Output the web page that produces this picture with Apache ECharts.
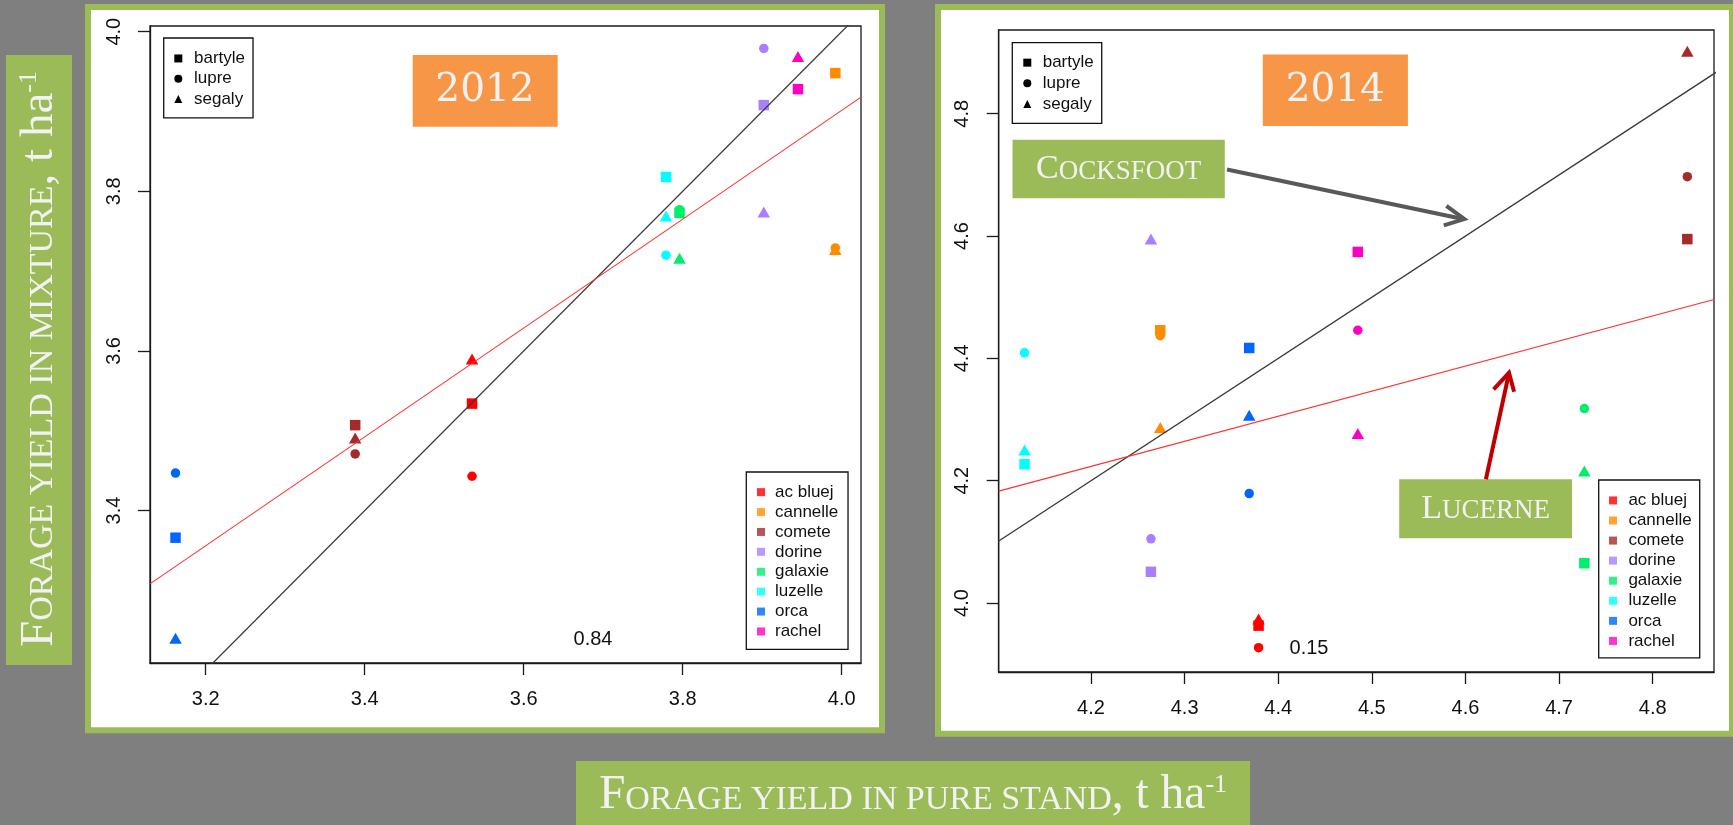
<!DOCTYPE html>
<html><head><meta charset="utf-8">
<script src="https://cdn.jsdelivr.net/npm/echarts@6/dist/echarts.min.js"></script>
<style>html,body{margin:0;padding:0;background:#7f7f7f;overflow:hidden}#c{width:1733px;height:825px}</style>
</head><body><div id="c"></div>
<script>
// ---------- data ----------
const varieties = ['ac bluej','cannelle','comete','dorine','galaxie','luzelle','orca','rachel'];
const species = ['bartyle','lupre','segaly'];

// 2012: yield in pure stand (x) and in mixture with each grass (y), per variety
const pure2012    = [3.535, 3.992, 3.388, 3.902, 3.796, 3.779, 3.162, 3.945];
const bartyle2012 = [3.534, 3.948, 3.507, 3.908, 3.773, 3.818, 3.366, 3.928];
const lupre2012   = [3.443, 3.729, 3.471, 3.979, 3.777, 3.720, 3.447, null];
const segaly2012  = [3.590, 3.727, 3.491, 3.774, 3.716, 3.769, 3.240, 3.969];

// 2014
const pure2014    = [4.379, 4.274, 4.837, 4.264, 4.727, 4.129, 4.369, 4.485];
const bartyle2014 = [3.963, 4.446, 4.595, 4.051, 4.065, 4.227, 4.417, 4.574];
const lupre2014   = [3.927, 4.437, 4.697, 4.105, 4.318, 4.409, 4.179, 4.446];
const segaly2014  = [3.974, 4.287, 4.902, 4.595, 4.216, 4.250, 4.307, 4.277];

// regression lines (red)
const fit2012 = {intercept: 1.1742, slope: 0.6818};
const fit2014 = {intercept: 2.5014, slope: 0.410};
const stat2012 = '0.84';
const stat2014 = '0.15';

// axis ranges and ticks
const xRange2012 = [3.1299, 4.0243];
const yRange2012 = [3.2090, 4.0071];
const xRange2014 = [4.1014, 4.8655];
const yRange2014 = [3.8872, 4.9369];
const xTicks2012 = [3.2, 3.4, 3.6, 3.8, 4.0];
const yTicks2012 = [3.4, 3.6, 3.8, 4.0];
const xTicks2014 = [4.2, 4.3, 4.4, 4.5, 4.6, 4.7, 4.8];
const yTicks2014 = [4.0, 4.2, 4.4, 4.6, 4.8];

// ---------- styles ----------
const varietyColors = ['#FF0000','#FF8C00','#A52A2A','#A87FFF','#00EE6A','#00FFFF','#0066FF','#FF00C0'];
const speciesSymbols = ['rect','circle','triangle'];
const speciesSizes = [10.5, 9.5, [12.5, 11]];
const GREEN = '#9BBB59', ORANGE = '#F79646', TXT = '#F2F2F2';
const SANS = 'Liberation Sans, Arial, sans-serif';
const SERIF = 'Liberation Serif, Times New Roman, serif';

const panels = [
  {pure: pure2012, mix: [bartyle2012, lupre2012, segaly2012], fit: fit2012, xr: xRange2012, yr: yRange2012, xt: xTicks2012, yt: yTicks2012},
  {pure: pure2014, mix: [bartyle2014, lupre2014, segaly2014], fit: fit2014, xr: xRange2014, yr: yRange2014, xt: xTicks2014, yt: yTicks2014}
];

function axis(gi, range, ticks, isY) {
  return {
    type: 'value', gridIndex: gi, min: range[0], max: range[1], scale: true,
    axisLine: {show: true, onZero: false, lineStyle: {color: '#1a1a1a', width: 1.3}},
    axisTick: {show: true, inside: false, length: 12, customValues: ticks, lineStyle: {color: '#1a1a1a', width: 1.3}},
    axisLabel: {customValues: ticks, formatter: v => v.toFixed(1), fontFamily: SANS, fontSize: 20,
      color: '#111', margin: 26, rotate: isY ? 90 : 0, hideOverlap: false},
    splitLine: {show: false}
  };
}

const series = [];
panels.forEach((p, gi) => {
  species.forEach((sp, si) => {
    const data = [];
    p.pure.forEach((x, vi) => {
      const y = p.mix[si][vi];
      if (y != null) data.push({value: [x, y], itemStyle: {color: varietyColors[vi]}});
    });
    series.push({type: 'scatter', name: sp, xAxisIndex: gi, yAxisIndex: gi,
      symbol: speciesSymbols[si], symbolSize: speciesSizes[si], itemStyle: {color: '#000', opacity: 1},
      data: data, z: 3, silent: true});
  });
  const lo = Math.min(p.xr[0], p.yr[0]), hi = Math.max(p.xr[1], p.yr[1]);
  series.push({type: 'line', xAxisIndex: gi, yAxisIndex: gi, data: [[lo, lo], [hi, hi]],
    symbol: 'none', lineStyle: {color: '#3a3a3a', width: 1.3}, silent: true, z: 4, clip: true});
  series.push({type: 'line', xAxisIndex: gi, yAxisIndex: gi,
    data: [[p.xr[0], p.fit.intercept + p.fit.slope * p.xr[0]], [p.xr[1], p.fit.intercept + p.fit.slope * p.xr[1]]],
    symbol: 'none', lineStyle: {color: '#ff3030', width: 1.1}, silent: true, z: 4, clip: true});
});
varieties.forEach((v, vi) => {
  series.push({type: 'scatter', name: v, data: [], symbol: 'rect', itemStyle: {color: varietyColors[vi]}});
});

function legend(names, icons, left, top, pad, lh, textPad) {
  return {
    data: names.map((n, i) => ({name: n, icon: icons ? icons[i] : 'rect'})),
    orient: 'vertical', left: left, top: top, padding: pad, itemWidth: 8, itemHeight: 8, itemGap: 0,
    borderColor: '#111', borderWidth: 1.3, borderRadius: 0, backgroundColor: '#fff', selectedMode: false,
    textStyle: {fontFamily: SANS, fontSize: 17, color: '#111', lineHeight: lh, padding: [0, 0, 0, textPad]}
  };
}

function smallCaps(cap, size) {
  return {
    c: {fontFamily: SERIF, fontSize: cap, fill: TXT, color: TXT, verticalAlign: 'bottom'},
    s: {fontFamily: SERIF, fontSize: size, fill: TXT, color: TXT, verticalAlign: 'bottom', padding: [0, 0, 3, 0]},
    p: {fontFamily: SERIF, fontSize: 26, fill: TXT, color: TXT, verticalAlign: 'top'}
  };
}

function box(x, y, w, h, fill) {
  return {type: 'rect', shape: {x: x, y: y, width: w, height: h}, style: {fill: fill}, z: 50, silent: true};
}
function label(x, y, text, rich, rot, extra) {
  return Object.assign({type: 'text', x: x, y: y, rotation: rot || 0, z: 51, silent: true,
    style: {text: text, rich: rich, align: 'center', verticalAlign: 'middle', textAlign: 'center', textVerticalAlign: 'middle', fill: TXT}}, extra || {});
}

const graphic = [
  // panels
  {type: 'rect', shape: {x: 88, y: 7, width: 794, height: 723.3}, style: {fill: '#fff', stroke: GREEN, lineWidth: 6}, z: -5, silent: true},
  {type: 'rect', shape: {x: 938, y: 7, width: 794, height: 726.7}, style: {fill: '#fff', stroke: GREEN, lineWidth: 6}, z: -5, silent: true},
  // axis title boxes
  box(6, 55, 66, 610, GREEN),
  label(40, 359, '{c|F}{s|ORAGE YIELD IN MIXTURE}{c|, t ha}{p|-1}', smallCaps(47, 34), Math.PI / 2),
  box(576, 761, 674, 70, GREEN),
  label(913, 796, '{c|F}{s|ORAGE YIELD IN PURE STAND}{c|, t ha}{p|-1}', smallCaps(47.5, 34), 0),
  // year boxes
  box(412.7, 55, 145, 71.7, ORANGE),
  {type: 'text', x: 485, y: 91, z: 51, silent: true, style: {text: '2012', fontFamily: 'DejaVu Serif', fontSize: 39, fill: TXT, align: 'center', verticalAlign: 'middle', textAlign: 'center', textVerticalAlign: 'middle'}},
  box(1262.8, 54.6, 145.1, 71.4, ORANGE),
  {type: 'text', x: 1335.3, y: 90.5, z: 51, silent: true, style: {text: '2014', fontFamily: 'DejaVu Serif', fontSize: 39, fill: TXT, align: 'center', verticalAlign: 'middle', textAlign: 'center', textVerticalAlign: 'middle'}},
  // annotations
  box(1012.5, 139.7, 212.3, 58.6, GREEN),
  label(1118.7, 169.5, '{c|C}{s|OCKSFOOT}', {c: {fontFamily: SERIF, fontSize: 34, fill: TXT, verticalAlign: 'bottom'}, s: {fontFamily: SERIF, fontSize: 27, fill: TXT, verticalAlign: 'bottom', padding: [0, 0, 1.5, 0]}}),
  box(1399.2, 479.2, 172.8, 59.1, GREEN),
  label(1485.6, 509, '{c|L}{s|UCERNE}', {c: {fontFamily: SERIF, fontSize: 34, fill: TXT, verticalAlign: 'bottom'}, s: {fontFamily: SERIF, fontSize: 27, fill: TXT, verticalAlign: 'bottom', padding: [0, 0, 1.5, 0]}}),
  {type: 'polyline', shape: {points: [[1227, 169.5], [1463, 219]]}, style: {stroke: '#595959', lineWidth: 4, fill: null}, z: 52, silent: true},
  {type: 'polyline', shape: {points: [[1446.4, 205.9], [1464.3, 219.1], [1443.8, 225.3]]}, style: {stroke: '#595959', lineWidth: 4, fill: null}, z: 52, silent: true},
  {type: 'polyline', shape: {points: [[1485.9, 479.2], [1508.8, 374]]}, style: {stroke: '#C00000', lineWidth: 4, fill: null}, z: 52, silent: true},
  {type: 'polyline', shape: {points: [[1493.6, 389.3], [1509, 372.8], [1514.1, 391.7]]}, style: {stroke: '#C00000', lineWidth: 4, fill: null}, z: 52, silent: true},
  // statistics
  {type: 'text', x: 593, y: 639.5, z: 20, silent: true, style: {text: stat2012, fontFamily: SANS, fontSize: 20, fill: '#111', align: 'center', verticalAlign: 'middle', textAlign: 'center', textVerticalAlign: 'middle'}},
  {type: 'text', x: 1309, y: 648.4, z: 20, silent: true, style: {text: stat2014, fontFamily: SANS, fontSize: 20, fill: '#111', align: 'center', verticalAlign: 'middle', textAlign: 'center', textVerticalAlign: 'middle'}}
];

const option = {
  animation: false,
  backgroundColor: '#7f7f7f',
  grid: [
    {left: 150, top: 26, width: 711, height: 637, show: true, borderColor: '#1a1a1a', borderWidth: 1.3, backgroundColor: 'transparent', containLabel: false, outerBoundsMode: 'none'},
    {left: 998.7, top: 30, width: 715.3, height: 642, show: true, borderColor: '#1a1a1a', borderWidth: 1.3, backgroundColor: 'transparent', containLabel: false, outerBoundsMode: 'none'}
  ],
  xAxis: [axis(0, xRange2012, xTicks2012, false), axis(1, xRange2014, xTicks2014, false)],
  yAxis: [axis(0, yRange2012, yTicks2012, true), axis(1, yRange2014, yTicks2014, true)],
  legend: [
    legend(species, speciesSymbols, 163.7, 38, [10.3, 8, 8.7, 10.6], 20.3, 6.7),
    legend(varieties, null, 746.3, 472, [10.2, 9.7, 8, 10.7], 19.9, 5),
    legend(species, speciesSymbols, 1012.3, 42.7, [9.6, 8, 9, 11], 20.7, 6.4),
    legend(varieties, null, 1598.7, 480, [10.4, 8, 7, 10.3], 20.07, 6.4)
  ],
  series: series,
  graphic: graphic
};

const chart = echarts.init(document.getElementById('c'), null, {renderer: 'canvas'});
chart.setOption(option);
</script>
</body></html>
